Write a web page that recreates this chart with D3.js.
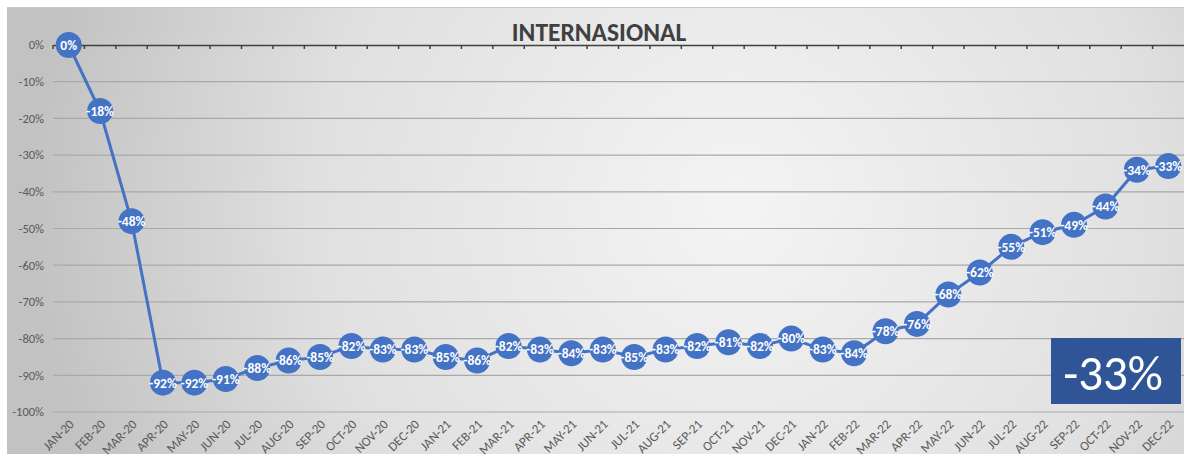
<!DOCTYPE html>
<html>
<head>
<meta charset="utf-8">
<script src="https://cdnjs.cloudflare.com/ajax/libs/d3/7.8.5/d3.min.js"></script>
<style>
  body { margin: 0; background: #ffffff; }
  text { font-family: Carlito, Lato, "Open Sans", sans-serif; }
</style>
</head>
<body>
<div id="chart"></div>
<script>
// chart data
let months = ['JAN-20','FEB-20','MAR-20','APR-20','MAY-20','JUN-20','JUL-20','AUG-20','SEP-20','OCT-20','NOV-20','DEC-20',
              'JAN-21','FEB-21','MAR-21','APR-21','MAY-21','JUN-21','JUL-21','AUG-21','SEP-21','OCT-21','NOV-21','DEC-21',
              'JAN-22','FEB-22','MAR-22','APR-22','MAY-22','JUN-22','JUL-22','AUG-22','SEP-22','OCT-22','NOV-22','DEC-22'];
let values = [0, -18, -48, -92, -92, -91, -88, -86, -85, -82, -83, -83,
              -85, -86, -82, -83, -84, -83, -85, -83, -82, -81, -82, -80,
              -83, -84, -78, -76, -68, -62, -55, -51, -49, -44, -34, -33];
let yTicks = [0, -10, -20, -30, -40, -50, -60, -70, -80, -90, -100];
let title = 'INTERNASIONAL';
let badge = '-33%';

let width = 1184, height = 459;

let svg = d3.select('#chart').append('svg')
    .attr('width', width)
    .attr('height', height);

// panel background
let defs = svg.append('defs');
let grad = defs.append('radialGradient')
    .attr('id', 'bg')
    .attr('cx', '62%').attr('cy', '45%')
    .attr('r', '60%')
    .attr('gradientTransform', 'translate(0.62 0.45) scale(1 2.6) translate(-0.62 -0.45)');
grad.append('stop').attr('offset', '0%').attr('stop-color', '#f4f4f4');
grad.append('stop').attr('offset', '60%').attr('stop-color', '#e0e0e0');
grad.append('stop').attr('offset', '100%').attr('stop-color', '#c2c2c2');

svg.append('rect')
    .attr('x', 7).attr('y', 7)
    .attr('width', width - 7).attr('height', 447)
    .attr('fill', 'url(#bg)');
svg.append('line')
    .attr('x1', 7).attr('x2', width)
    .attr('y1', 7.5).attr('y2', 7.5)
    .attr('stroke', '#c8c8c8');

// scales
let x = d3.scaleBand()
    .domain(months)
    .range([53, 1184])
    .padding(0);

let y = d3.scaleLinear()
    .domain([0, -100])
    .range([45, 412]);

let cx = d => x(d) + x.bandwidth() / 2;

// gridlines
svg.append('g')
    .selectAll('line')
    .data(yTicks.filter(d => d !== 0))
    .enter().append('line')
    .attr('x1', 53).attr('x2', 1184)
    .attr('y1', d => y(d)).attr('y2', d => y(d))
    .attr('stroke', '#a9a9a9')
    .attr('stroke-width', 1.2);

// y labels
svg.append('g')
    .selectAll('text')
    .data(yTicks)
    .enter().append('text')
    .attr('x', 44)
    .attr('y', d => y(d))
    .attr('dy', '0.35em')
    .attr('text-anchor', 'end')
    .style('font-size', '12.5px')
    .style('fill', '#595959')
    .text(d => d + '%');

// category axis along 0%
let xAxis = d3.axisBottom(x)
    .tickSize(0)
    .tickFormat('');
let axisG = svg.append('g')
    .attr('transform', `translate(0, ${y(0)})`)
    .call(xAxis);
axisG.select('.domain')
    .attr('stroke', '#404040')
    .attr('stroke-width', 1.6);

// tick marks between categories
svg.append('g')
    .selectAll('line')
    .data(months)
    .enter().append('line')
    .attr('x1', d => x(d)).attr('x2', d => x(d))
    .attr('y1', y(0)).attr('y2', y(0) + 4)
    .attr('stroke', '#404040')
    .attr('stroke-width', 1.5);

// x labels
svg.append('g')
    .selectAll('text')
    .data(months)
    .enter().append('text')
    .attr('transform', d => `translate(${cx(d) + 6}, ${y(-100) + 13}) rotate(-45)`)
    .attr('text-anchor', 'end')
    .style('font-size', '13px')
    .style('fill', '#595959')
    .text(d => d);

// title
svg.append('text')
    .attr('x', 599)
    .attr('y', 41)
    .attr('text-anchor', 'middle')
    .style('font-size', '25.5px')
    .style('font-weight', 'bold')
    .style('fill', '#404040')
    .text(title);

// line
let line = d3.line()
    .x((d, i) => cx(months[i]))
    .y(d => y(d));

svg.append('path')
    .datum(values)
    .attr('d', line)
    .attr('fill', 'none')
    .attr('stroke', '#4472c4')
    .attr('stroke-width', 3);

// markers
svg.append('g')
    .selectAll('circle')
    .data(values)
    .enter().append('circle')
    .attr('cx', (d, i) => cx(months[i]))
    .attr('cy', d => y(d))
    .attr('r', 13)
    .attr('fill', '#4472c4');

// data labels
svg.append('g')
    .selectAll('text')
    .data(values)
    .enter().append('text')
    .attr('x', (d, i) => cx(months[i]))
    .attr('y', d => y(d))
    .attr('dy', '0.36em')
    .attr('text-anchor', 'middle')
    .style('font-size', '13.5px')
    .style('font-weight', 'bold')
    .style('fill', '#ffffff')
    .text(d => d + '%');

// highlight box
svg.append('rect')
    .attr('x', 1051).attr('y', 338)
    .attr('width', 130).attr('height', 66)
    .attr('fill', '#2f5597');
svg.append('text')
    .attr('x', 1113)
    .attr('y', 372)
    .attr('dy', '0.36em')
    .attr('text-anchor', 'middle')
    .style('font-size', '49px')
    .style('font-weight', '300')
    .style('fill', '#ffffff')
    .text(badge);
</script>
</body>
</html>
